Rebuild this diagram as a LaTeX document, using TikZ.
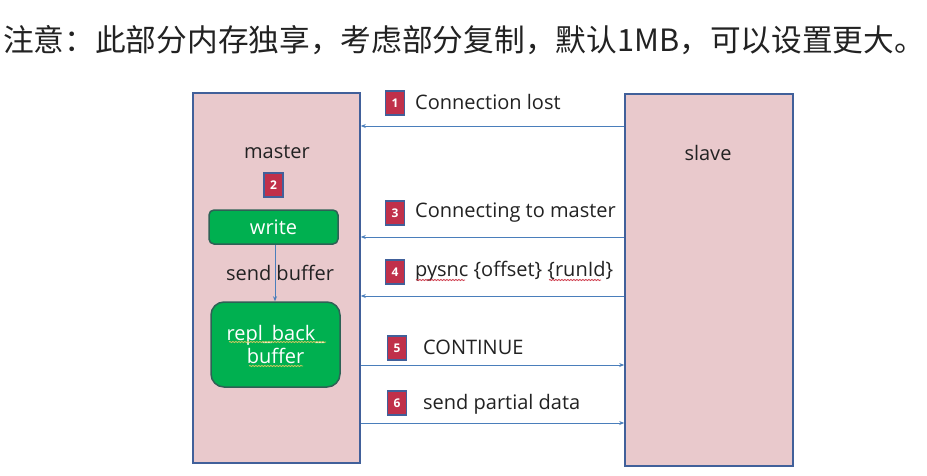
\documentclass[tikz,border=0pt]{standalone}
\usepackage{fontspec}
\setmainfont{Open Sans}
\newfontfamily\cjk{Noto Sans CJK SC}
\usetikzlibrary{arrows.meta,decorations.pathmorphing}
\definecolor{boxfill}{HTML}{E9C9CC}
\definecolor{boxline}{HTML}{41609A}
\definecolor{arrcol}{HTML}{4A7EBB}
\definecolor{badgecol}{HTML}{C0304A}
\definecolor{gfill}{HTML}{00B050}
\definecolor{gline}{HTML}{2E6155}
\definecolor{txt}{HTML}{222222}
\definecolor{spellred}{HTML}{D04050}
\definecolor{spellyel}{HTML}{C8C860}
\begin{document}
\begin{tikzpicture}[x=1pt,y=-1pt,
  panel/.style={draw=boxline, fill=boxfill, line width=1.6pt, inner sep=0pt},
  conn/.style={draw=arrcol, line width=1pt, -{Stealth[length=5pt,width=4pt]}},
  badge/.style={draw=boxline, fill=badgecol, line width=1.3pt, minimum width=19pt, minimum height=24pt, inner sep=0pt, text=white, font=\fontsize{12}{14}\selectfont\bfseries},
  lbl/.style={anchor=west, inner sep=0pt, text=txt, font=\fontsize{20}{24}\selectfont},
  plain/.style={text=txt, inner sep=0pt, font=\fontsize{20}{24}\selectfont},
  gbox/.style={draw=gline, fill=gfill, line width=1.5pt, text=white, inner sep=0pt, align=center, font=\fontsize{20}{22}\selectfont},
  wavy/.style={decorate, decoration={snake, amplitude=0.6pt, segment length=3pt}, line width=0.8pt}
]
\useasboundingbox (0,0) rectangle (927,475);
\fill[white] (0,0) rectangle (927,475);

\node[anchor=west, inner sep=0pt, text=txt, font=\cjk\fontsize{30.7}{36}\selectfont] (title) at (3,40) {注意：此部分内存独享，考虑部分复制，默认1MB，可以设置更大。};

\node[panel, minimum width=167pt, minimum height=370pt] (master) at (276.5,278) {};
\node[panel, minimum width=168pt, minimum height=372pt] (slave) at (709,280) {};

\node[plain] (mlabel) at (277,152) {master};
\node[plain] (slabel) at (708,153) {slave};
\node[badge] (b2) at (273.5,185) {2};

\node[gbox, rounded corners=5pt, minimum width=129pt, minimum height=34pt] (write) at (273.5,227) {write};
\node[gbox, rounded corners=13pt, minimum width=129pt, minimum height=85pt] (repl) at (275.5,344.5) {repl\_back\_\\[1pt]buffer};
\draw[conn, line width=0.9pt] (write.south -| 275,0) -- (repl.north -| 275,0);
\node[plain] (sendbuf) at (280,273) {send buffer};

% spelling marks in repl box
\draw[spellyel, wavy] (229,342) -- (326,342);
\draw[spellyel, wavy] (249,366) -- (303,366);

% arrows
\coordinate (y1) at (0,126);
\coordinate (y3) at (0,237);
\coordinate (y4) at (0,296);
\coordinate (y5) at (0,365);
\coordinate (y6) at (0,423);
\draw[conn] (slave.west |- y1) -- (master.east |- y1);
\draw[conn] (slave.west |- y3) -- (master.east |- y3);
\draw[conn] (slave.west |- y4) -- (master.east |- y4);
\draw[conn] (master.east |- y5) -- (slave.west |- y5);
\draw[conn] (master.east |- y6) -- (slave.west |- y6);

% labels
\node[badge] (b1) at (395,103) {1};
\node[lbl] (l1) at (415,102) {Connection lost};
\node[badge] (b3) at (395,213) {3};
\node[lbl] (l3) at (415,213) {Connecting to master};
\node[badge] (b4) at (395,272) {4};
\node[lbl] (l4) at (415,271) {pysnc \{offset\} \{runId\}};
\node[badge] (b5) at (397,348) {5};
\node[lbl] (l5) at (423,347) {CONTINUE};
\node[badge] (b6) at (397,403) {6};
\node[lbl] (l6) at (423,404) {send partial data};

% spelling marks on pysnc / runId
\draw[spellred, wavy] (416,280) -- (465,280);
\draw[spellred, wavy] (549,280) -- (601,280);
\end{tikzpicture}
\end{document}
